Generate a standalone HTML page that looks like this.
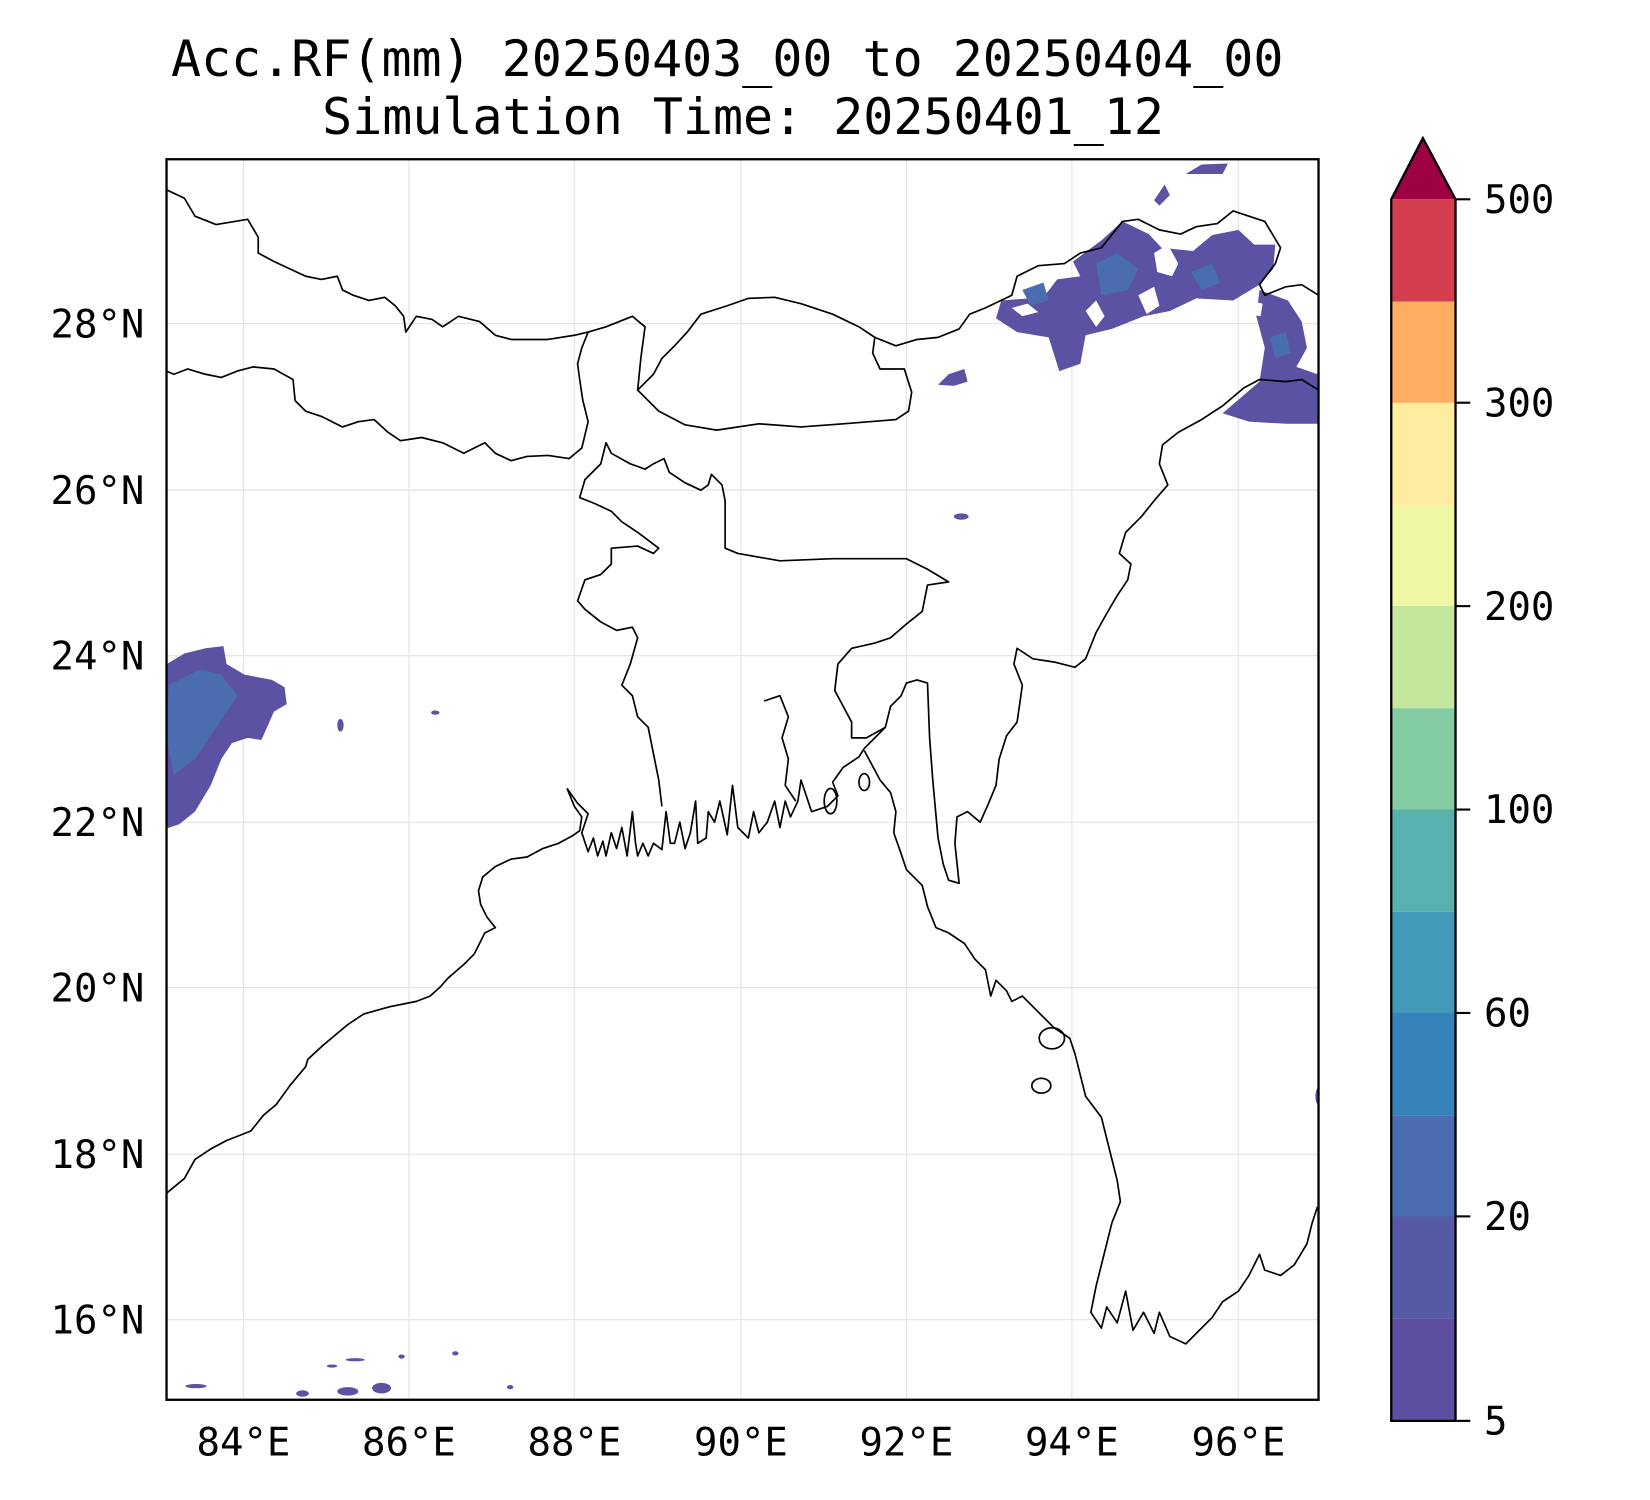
<!DOCTYPE html>
<html><head><meta charset="utf-8"><style>html,body{margin:0;padding:0;background:#fff}svg{display:block}</style></head><body>
<svg width="1650" height="1500" viewBox="0 0 1565.5 1423" xmlns="http://www.w3.org/2000/svg" font-family="'DejaVu Sans Mono','Liberation Mono',monospace">
<rect width="1565.5" height="1423" fill="#fff"/>
<text x="690" y="72" font-size="47.4" text-anchor="middle">Acc.RF(mm) 20250403_00 to 20250404_00</text>
<text x="705" y="127" font-size="47.4" text-anchor="middle">Simulation Time: 20250401_12</text>
<defs><clipPath id="c"><rect x="158" y="151" width="1093" height="1177"/></clipPath></defs>
<g stroke="#e6e6e6" stroke-width="1.2">
<line x1="231" y1="151" x2="231" y2="1328"/><line x1="388" y1="151" x2="388" y2="1328"/><line x1="545" y1="151" x2="545" y2="1328"/><line x1="703" y1="151" x2="703" y2="1328"/><line x1="860" y1="151" x2="860" y2="1328"/><line x1="1017" y1="151" x2="1017" y2="1328"/><line x1="1175" y1="151" x2="1175" y2="1328"/>
<line x1="158" y1="307" x2="1251" y2="307"/><line x1="158" y1="465" x2="1251" y2="465"/><line x1="158" y1="622" x2="1251" y2="622"/><line x1="158" y1="780" x2="1251" y2="780"/><line x1="158" y1="937" x2="1251" y2="937"/><line x1="158" y1="1095" x2="1251" y2="1095"/><line x1="158" y1="1252" x2="1251" y2="1252"/>
</g>
<g clip-path="url(#c)">
<g fill="#5b52a3">
<polygon points="158,630 175,620 195,615 212,613 215,630 232,640 258,645 270,652 272,668 260,675 248,702 235,700 220,705 210,720 200,745 185,770 170,782 158,786"/>
<polygon points="990,282 1003,265 1025,262 1018,248 1045,228 1065,210 1090,222 1102,235 1132,238 1150,223 1175,218 1190,232 1210,232 1208,255 1195,270 1170,285 1135,283 1110,295 1085,300 1055,312 1030,318 1025,345 1005,352 995,320 965,315 945,302 950,285"/>
<polygon points="1195,275 1222,285 1235,305 1240,330 1230,348 1250,355 1250,402 1220,402 1185,400 1160,392 1195,362 1200,330 1192,300"/>
<polygon points="1125,165 1140,156 1165,155 1160,165 1140,165"/>
<polygon points="1095,190 1105,175 1110,185 1100,195"/>
<polygon points="890,365 900,355 915,350 918,362 905,366"/>
<ellipse cx="912" cy="490" rx="7" ry="3"/><ellipse cx="323" cy="688" rx="3" ry="6"/><ellipse cx="413" cy="676" rx="4" ry="2"/>
<ellipse cx="186" cy="1315" rx="10" ry="2"/><ellipse cx="287" cy="1322" rx="6" ry="3"/><ellipse cx="330" cy="1320" rx="10" ry="4"/><ellipse cx="362" cy="1317" rx="9" ry="5"/><ellipse cx="337" cy="1290" rx="9" ry="1.5"/><ellipse cx="315" cy="1296" rx="5" ry="1.5"/><ellipse cx="381" cy="1287" rx="3" ry="2"/><ellipse cx="432" cy="1284" rx="3" ry="2"/><ellipse cx="484" cy="1316" rx="3" ry="2"/><ellipse cx="1251" cy="1040" rx="3" ry="8"/>
</g>
<g fill="#fff"><polygon points="1095,240 1108,232 1118,250 1112,262 1098,258"/><polygon points="1080,280 1095,272 1100,290 1088,298"/><polygon points="1030,295 1040,285 1048,300 1040,310"/><polygon points="960,292 975,288 985,296 970,300"/><polygon points="1185,285 1198,288 1196,300 1186,298"/></g>
<g fill="#4a6cb0"><polygon points="160,650 190,635 210,640 225,660 205,690 185,720 165,735 158,700"/><polygon points="1040,250 1060,240 1080,255 1070,275 1045,280"/><polygon points="1205,320 1220,315 1225,335 1210,340"/><polygon points="1130,258 1150,250 1158,268 1140,275"/><polygon points="970,275 990,268 995,285 978,290"/></g>
<g fill="none" stroke="#000" stroke-width="1.6" stroke-linejoin="round">
<polyline points="158,1132 175,1118 185,1100 200,1090 215,1082 238,1073 250,1058 262,1048 275,1030 290,1012 292,1005 305,993 318,982 330,972 345,962 370,955 395,950 408,945 418,936 425,928 440,915 450,905 455,895 460,885 470,880 462,870 456,858 454,845 458,832 470,822 485,815 500,813 515,805 530,800 543,793 550,788 552,775 545,765 538,748"/>
<polyline points="538,748 548,762 558,772 552,790 558,808 563,795 567,812 572,798 575,812 580,790 585,805 590,785 595,812 600,770 603,800 605,812 610,800 615,812 620,800 628,806 632,770 636,800 640,800 645,780 650,805 655,790 660,760 662,800 670,795 672,770 678,780 683,760 690,792 695,745 700,785 710,795 715,770 720,790 728,780 735,760 740,785 745,760 750,775 757,760 760,740 770,770 785,765 795,755 790,742 800,728 815,718 820,710"/>
<polyline points="820,712 835,740 845,752 850,770 848,790 855,810 860,825 875,840 880,860 888,880 900,885 915,895 925,910 935,920 940,945 945,930 955,940 960,950 970,945 985,960 1000,975 1015,985 1020,1000 1025,1020 1030,1040 1045,1060 1050,1080 1055,1100 1060,1120 1063,1140 1055,1160 1050,1180 1045,1200 1040,1220 1035,1245 1045,1260 1050,1240 1060,1255 1068,1225 1075,1262 1085,1245 1095,1265 1100,1245 1110,1268 1125,1275 1135,1265 1150,1250 1160,1235 1175,1225 1185,1210 1195,1190 1200,1205 1215,1210 1228,1200 1240,1180 1245,1160 1250,1145"/>
<polyline points="725,665 740,660 748,680 742,700 748,720 745,745 755,760"/>
<ellipse cx="820" cy="742" rx="5" ry="8"/><ellipse cx="788" cy="760" rx="6" ry="12"/><ellipse cx="988" cy="1030" rx="9" ry="7"/><ellipse cx="998" cy="985" rx="12" ry="10"/>
<polyline points="158,180 175,188 185,205 205,213 235,208 245,225 245,240 260,248 275,255 290,262 305,265 320,262 325,275 335,280 350,285 365,282 375,290 383,300 385,315 395,300 410,303 420,310 435,300 455,305 470,318 485,322 500,322 520,322 545,318 558,315 552,330 548,345 550,360 553,380 558,400 552,425 540,435 520,432 500,433 485,437 470,430 460,420 440,430 420,420 400,415 380,418 368,410 355,398 340,400 325,405 305,395 290,390 280,380 278,360 260,350 240,348 225,352 210,358 195,355 178,350 165,355 158,352"/>
<polyline points="558,315 575,310 600,300 612,310 608,340 605,370"/>
<polygon points="605,370 625,390 650,403 680,408 720,402 760,405 800,402 850,398 862,390 865,372 858,350 835,350 828,335 830,320 815,310 790,298 760,288 735,282 710,283 690,290 665,298 652,315 640,328 628,340 620,355"/>
<polyline points="830,320 850,328 870,322 890,320 910,312 920,298 935,292 960,280 965,262 985,252 1010,250 1025,240 1045,235 1065,210 1080,208 1100,218 1120,222 1135,215 1155,212 1170,200 1185,205 1200,210 1215,235 1210,250 1195,270 1200,280 1220,272 1235,270 1251,280"/>
<polyline points="1251,370 1235,360 1220,362 1195,360 1180,368 1160,385 1140,398 1118,410 1103,422 1100,440 1108,460 1095,475 1083,490 1068,505 1062,525 1073,535 1070,550 1060,565 1050,582 1040,600 1030,625 1020,633 1000,628 980,625 965,615 962,630 970,650 965,685 955,698 948,720 945,745 938,762 930,780 918,770 908,775 906,800 910,838 900,835 895,820 890,795 885,740 882,700 880,648 870,645 860,648 855,660 845,670 840,690 830,700 820,710"/>
<polyline points="628,765 625,740 620,715 615,690 605,680 600,660 590,650 598,630 605,605 600,595 585,598 570,590 555,578 548,570 555,550 570,545 580,535 580,520 605,518 620,525 625,520 605,505 590,495 580,485 565,478 550,472 555,455 570,440 575,420 580,430 598,440 612,445 620,440 630,435 635,448 650,458 665,465 672,460 675,450 685,460 688,475 688,520 700,525 740,532 790,530 830,530 860,530 880,540 900,552 880,555 875,580 860,592 845,605 830,610 808,615 795,630 792,655 800,670 808,685 808,700 822,700 840,690"/>
</g>
</g>
<rect x="158" y="151" width="1093" height="1177" fill="none" stroke="#000" stroke-width="2.2"/>
<g font-size="37" text-anchor="middle">
<text x="231" y="1381">84°E</text><text x="388" y="1381">86°E</text><text x="545" y="1381">88°E</text><text x="703" y="1381">90°E</text><text x="860" y="1381">92°E</text><text x="1017" y="1381">94°E</text><text x="1175" y="1381">96°E</text>
</g>
<g font-size="37" text-anchor="end">
<text x="137" y="320">28°N</text><text x="137" y="478">26°N</text><text x="137" y="635">24°N</text><text x="137" y="793">22°N</text><text x="137" y="950">20°N</text><text x="137" y="1108">18°N</text><text x="137" y="1265">16°N</text>
</g>
<g>
<rect x="1320" y="189" width="61" height="97" fill="#d53e4f"/>
<rect x="1320" y="286" width="61" height="97" fill="#fdae61"/>
<rect x="1320" y="382" width="61" height="97" fill="#feeca0"/>
<rect x="1320" y="479" width="61" height="97" fill="#f0f7a5"/>
<rect x="1320" y="575" width="61" height="97" fill="#c4e69d"/>
<rect x="1320" y="672" width="61" height="97" fill="#84cda3"/>
<rect x="1320" y="768" width="61" height="97" fill="#58b1ad"/>
<rect x="1320" y="865" width="61" height="97" fill="#4299b8"/>
<rect x="1320" y="961" width="61" height="97" fill="#3682ba"/>
<rect x="1320" y="1058" width="61" height="97" fill="#4a6cb0"/>
<rect x="1320" y="1154" width="61" height="97" fill="#5659a6"/>
<rect x="1320" y="1251" width="61" height="97" fill="#5e4fa2"/>
<polygon points="1320,189 1350,131 1381,189" fill="#9e0142"/>
<polygon points="1320,1348 1320,189 1350,131 1381,189 1381,1348" fill="none" stroke="#000" stroke-width="2.2"/>
<g stroke="#000" stroke-width="2"><line x1="1381" y1="189" x2="1395" y2="189"/><line x1="1381" y1="382" x2="1395" y2="382"/><line x1="1381" y1="575" x2="1395" y2="575"/><line x1="1381" y1="768" x2="1395" y2="768"/><line x1="1381" y1="961" x2="1395" y2="961"/><line x1="1381" y1="1154" x2="1395" y2="1154"/><line x1="1381" y1="1348" x2="1395" y2="1348"/></g>
<g font-size="37"><text x="1408" y="202">500</text><text x="1408" y="395">300</text><text x="1408" y="588">200</text><text x="1408" y="781">100</text><text x="1408" y="974">60</text><text x="1408" y="1167">20</text><text x="1408" y="1361">5</text></g>
</g>
</svg>
</body></html>
